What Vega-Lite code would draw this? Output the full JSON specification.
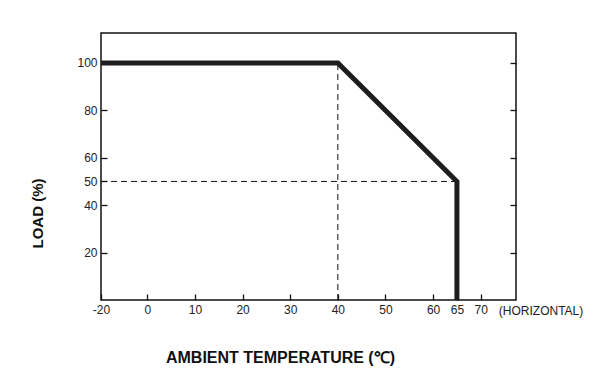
{
  "$schema": "https://vega.github.io/schema/vega-lite/v6.json",
  "width": 415,
  "height": 267,
  "autosize": "none",
  "padding": {"left": 101, "top": 33, "right": 80, "bottom": 81},
  "background": "white",
  "config": {
    "view": {"stroke": "#111", "strokeWidth": 1.5},
    "font": "Liberation Sans",
    "axis": {
      "labelFont": "Liberation Sans",
      "labelFontSize": 12,
      "labelColor": "#222",
      "tickColor": "#111",
      "tickWidth": 1.3,
      "domain": false,
      "grid": false,
      "titleFont": "Liberation Sans",
      "titleFontWeight": "bold",
      "titleColor": "#111"
    }
  },
  "datasets": {
    "curve": [
      {"t": -20, "load": 100},
      {"t": 40, "load": 100},
      {"t": 65, "load": 50},
      {"t": 65, "load": 0}
    ],
    "vguide": [
      {"t": 40, "load": 0},
      {"t": 40, "load": 100}
    ],
    "hguide": [
      {"t": -20, "load": 50},
      {"t": 65, "load": 50}
    ],
    "note": [
      {"t": 73.8, "load": 0, "label": "(HORIZONTAL)"}
    ]
  },
  "layer": [
    {
      "data": {"name": "vguide"},
      "mark": {"type": "line", "color": "#111", "strokeWidth": 1, "strokeDash": [6, 4]},
      "encoding": {
        "x": {
          "field": "t", "type": "quantitative",
          "scale": {"type": "linear", "domain": [-20, 0, 77.4], "range": [0, 46.3, 415], "nice": false, "zero": false},
          "axis": {
            "values": [-20, 0, 10, 20, 30, 40, 50, 60, 65, 70],
            "labelExpr": "'' + datum.value",
            "labelFlush": false,
            "tickSize": -6,
            "labelPadding": 10,
            "title": "AMBIENT TEMPERATURE (℃)",
            "titleFontSize": 16,
            "titleX": 179,
            "titleY": 62,
            "titleAlign": "center",
            "titleBaseline": "alphabetic"
          }
        },
        "y": {
          "field": "load", "type": "quantitative",
          "scale": {"domain": [0, 112.6], "nice": false, "zero": false},
          "axis": {
            "values": [20, 40, 50, 60, 80, 100],
            "tickSize": -6,
            "labelPadding": 10,
            "title": "LOAD (%)",
            "titleFontSize": 15,
            "titleAngle": 270,
            "titleX": -64,
            "titleY": 180,
            "titleAlign": "center",
            "titleBaseline": "middle"
          }
        }
      }
    },
    {
      "data": {"name": "hguide"},
      "mark": {"type": "line", "color": "#111", "strokeWidth": 1, "strokeDash": [6, 4]},
      "encoding": {
        "x": {"field": "t", "type": "quantitative"},
        "y": {"field": "load", "type": "quantitative", "axis": null}
      }
    },
    {
      "data": {"name": "curve"},
      "mark": {"type": "line", "color": "#1e1e1e", "strokeWidth": 5, "strokeCap": "butt", "strokeJoin": "miter"},
      "encoding": {
        "x": {"field": "t", "type": "quantitative"},
        "y": {
          "field": "load", "type": "quantitative",
          "axis": {
            "orient": "right",
            "values": [20, 40, 60, 80, 100],
            "tickSize": -6,
            "labels": false,
            "title": null
          }
        }
      }
    },
    {
      "data": {"name": "note"},
      "mark": {"type": "text", "align": "left", "baseline": "middle", "dy": 11, "fontSize": 12, "color": "#222", "font": "Liberation Sans"},
      "encoding": {
        "x": {"field": "t", "type": "quantitative"},
        "y": {"field": "load", "type": "quantitative", "axis": null},
        "text": {"field": "label"}
      }
    }
  ],
  "resolve": {"axis": {"y": "independent"}}
}
